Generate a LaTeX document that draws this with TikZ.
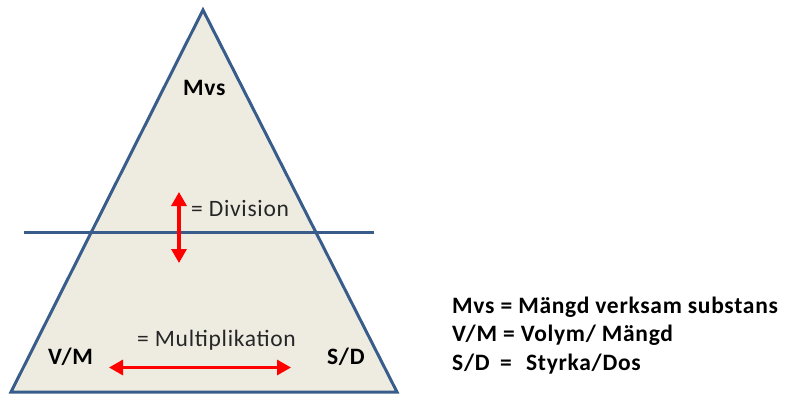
\documentclass[tikz,border=0pt]{standalone}
\usepackage{fontspec}
\setmainfont{Carlito}
\newfontfamily\widefont[LetterSpace=3]{Carlito}
\usetikzlibrary{arrows.meta}
\definecolor{outl}{HTML}{385D8A}
\definecolor{bgfill}{HTML}{EEECE1}
\definecolor{txtgray}{HTML}{262626}
\definecolor{arrred}{HTML}{FF0000}
\begin{document}
\begin{tikzpicture}[x=1pt,y=-1pt,
  lbl/.style={inner sep=0pt,anchor=base west,font=\widefont\fontsize{23.5}{27}\selectfont\bfseries,text=black},
  reg/.style={inner sep=0pt,anchor=base west,font=\widefont\fontsize{23.5}{27}\selectfont,text=txtgray},
  leg/.style={inner sep=0pt,anchor=base west,font=\widefont\fontsize{23.5}{27}\selectfont\bfseries,text=black},
  redarr/.style={draw=arrred,line width=3.2pt,{Triangle[width=15pt,length=14pt]}-{Triangle[width=15pt,length=14pt]}}]
\useasboundingbox (0,0) rectangle (788,394);
\coordinate (apex) at (203,10);
\coordinate (bl) at (11,392);
\coordinate (br) at (397,392);
\fill[bgfill] (apex) -- (bl) -- (br) -- cycle;
\draw[outl,line width=3pt,line join=miter] (apex) -- (bl) -- (br) -- cycle;
\coordinate (hl) at (24,232);
\coordinate (hr) at (374,232);
\draw[outl,line width=3pt] (hl) -- (hr);
\node[lbl] (mvs) at (183,95) {Mvs};
\node[reg] (div) at (191,216) {= Division};
\coordinate (vt) at (179,192);
\coordinate (vb) at (179,263);
\draw[redarr] (vt) -- (vb);
\node[reg] (mult) at (137,346.5) {= Multiplikation};
\coordinate (hlft) at (109,367.5);
\coordinate (hrgt) at (291,367.5);
\draw[redarr] (hlft) -- (hrgt);
\node[lbl] (vm) at (48,364) {V/M};
\node[lbl] (sd) at (327,364) {S/D};
\node[leg] (l1) at (452,313) {Mvs = Mängd verksam substans};
\node[leg] (l2) at (452,341.5) {V/M = Volym/ Mängd};
\node[leg] (l3) at (452,370.5) {S/D\hspace{0.45em}=\hspace{0.35em} Styrka/Dos};
\end{tikzpicture}
\end{document}
